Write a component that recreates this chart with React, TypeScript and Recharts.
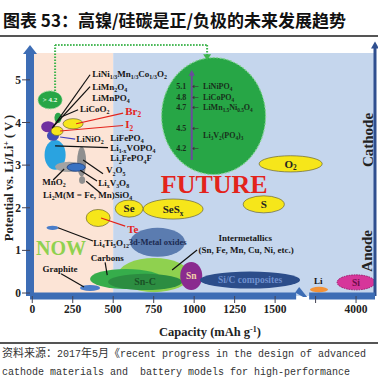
import React from 'react';
import { ComposedChart, XAxis, YAxis, ReferenceArea, ReferenceLine, ReferenceDot, Scatter } from 'recharts';

const SERIF = '"Liberation Serif", "Times New Roman", serif';

// ---------- axes ----------
const xTickCaps = [0, 250, 500, 750, 1000, 1250, 1500, 3750, 4000];
const xTickLabels = ['0', '250', '500', '750', '1000', '1250', '1500', '', '4000'];
const yTicks = [0, 1, 2, 3, 4, 5];
const xDomain = [-14, 2117];
const yDomain = [-0.07, 5.63];
const nowFutureSplit = 500;
const BREAK_SHIFT = 2000; // broken capacity axis: 3000+ mAh/g drawn shifted
const breakCap = 1667;
const toAxis = (cap: number) => (cap >= 3000 ? cap - BREAK_SHIFT : cap);

// ---------- material regions: [key, capacity, potential, capacity half-span, potential half-span] ----------
const futureRegions: [string, number, number, number, number][] = [
  ['future', 1120, 4.15, 321, 1.37],
  ['gt42', 110, 4.53, 74, 0.21],
];
const cathodeMaterials: [string, number, number, number, number][] = [
  ['O2', 1596, 3.03, 195, 0.19],
  ['S', 1430, 2.08, 127, 0.2],
  ['SeSx', 870, 1.97, 185, 0.235],
  ['Se', 598, 1.98, 86, 0.2],
  ['Te', 407, 1.76, 74, 0.2],
  ['LiFePO4', 141, 3.24, 65, 0.35],
  ['V2O5', 305, 3.08, 28, 0.35],
  ['Li2MSiO4', 308, 2.65, 19, 0.09],
  ['MnO2', 227, 2.96, 86, 0.12],
  ['LixV3O8', 271, 2.95, 56, 0.094],
  ['LiNi', 98, 3.9, 43, 0.13],
  ['LiNiO2', 128, 3.69, 37, 0.12],
  ['LiCoO2', 159, 4.11, 22, 0.12],
  ['I2', 153, 3.8, 37, 0.105],
  ['Br2', 252, 3.97, 62, 0.12],
];
const anodeMaterials: [string, number, number, number, number][] = [
  ['Li4Ti5O12', 125, 1.53, 37, 0.05],
  ['metalOxides', 774, 1.19, 170, 0.34],
  ['intermetallics', 752, 0.42, 222, 0.4],
  ['carbons', 579, 0.33, 222, 0.235],
  ['SnC', 697, 0.26, 229, 0.19],
  ['graphite', 357, 0.12, 62, 0.07],
  ['Sn', 982, 0.4, 68, 0.33],
  ['SiC', 1345, 0.305, 309, 0.2],
  ['Li', 3771, 0.08, 56, 0.065],
  ['Si', 4000, 0.25, 117, 0.176],
];

// ---------- texts: [text, capacity, potential] ----------
const cathodeLabels: [string, number, number][] = [
  ['LiNi_{1/3}Mn_{1/3}Co_{1/3}O_2', 370, 5.14],
  ['LiMn_2O_4', 370, 4.84],
  ['LiMnPO_4', 370, 4.58],
  ['LiCoO_2', 295, 4.32],
  ['LiNiO_2', 271, 3.61],
  ['LiFePO_4', 481, 3.65],
  ['Li_{1-x}VOPO_4', 481, 3.41],
  ['Li_2FePO_4F', 481, 3.16],
  ['V_2O_5', 456, 2.88],
  ['MnO_2', 61, 2.6],
  ['Li_xV_3O_8', 407, 2.58],
  ['Li_2M(M = Fe, Mn)SiO_4', 67, 2.3],
  ['Li_4Ti_5O_{12}', 376, 1.17],
];
const redLabels: [string, number, number][] = [
  ['Br_2', 574, 4.27],
  ['I_2', 574, 3.95],
  ['Te', 586, 1.5],
];
const centeredLabels: [string, number, number][] = [
  ['Carbons', 463, 0.82],
  ['Graphite', 172, 0.56],
  ['Intermetallics', 1315, 1.29],
  ['(Sn, Fe, Mn, Cu, Ni, etc.)', 1321, 1.01],
  ['Li', 3766, 0.28],
];
const circleValues: [string, number][] = [
  ['5.1', 4.86], ['4.8', 4.6], ['4.7', 4.36], ['4.5', 3.87], ['4.2', 3.4],
];
const circleMaterials: [string, number][] = [
  ['LiNiPO_4', 4.86], ['LiCoPO_4', 4.6], ['LiMn_{1.5}Ni_{0.5}O_4', 4.36], ['Li_3V_2(PO_4)_3', 3.7],
];
const circleValueCap = 920;
const circleArrowCap = 1011;
const circleLabelCap = 1055;
const circleAxis: [number, number, number] = [985, 3.12, 5.12];
const bigWords: [string, number, number, string][] = [
  ['FUTURE', 1124, 2.56, 'future'],
  ['NOW', 178, 1.06, 'now'],
  ['Cathode', 2075, 3.59, 'side'],
  ['Anode', 2069, 0.99, 'side'],
];

// ---------- leader lines: [cap1, v1, cap2, v2] ----------
const blackLeaders: [number, number, number, number][] = [
  [357, 5.12, 123, 3.87],
  [357, 4.84, 129, 3.9],
  [283, 4.3, 178, 4.13],
  [468, 3.41, 141, 3.45],
  [437, 2.8, 314, 3.12],
  [129, 2.65, 197, 2.91],
  [400, 2.63, 296, 2.88],
  [419, 2.35, 333, 2.62],
  [159, 1.53, 375, 1.22],
  [450, 0.72, 463, 0.42],
  [178, 0.45, 320, 0.14],
  [1018, 1.01, 864, 0.54],
];
const redLeaders: [number, number, number, number][] = [
  [561, 4.22, 271, 3.97],
  [561, 3.93, 172, 3.8],
  [574, 1.57, 425, 1.76],
];
const blueLeaders: [number, number, number, number][] = [[265, 3.61, 172, 3.66]];
const greenConnector: [number, number][] = [[141, 4.74], [141, 5.82], [1080, 5.82], [1080, 5.58]];

// ---------- styles ----------
const YELLOW = { fill: '#f6e61a', stroke: '#6a6530', sw: 0.7 };
const ellipseStyle: Record<string, any> = {
  future: { fill: '#27a646', stroke: '#7fd38c', sw: 1.2, dash: '2 1.5' },
  gt42: { fill: '#27a646', stroke: '#7fd38c', sw: 1, dash: '1.5 1', text: '> 4.2', tc: '#eaffea', ts: 7 },
  O2: { ...YELLOW, text: 'O_2', tc: '#222', ts: 11 },
  S: { ...YELLOW, text: 'S', tc: '#222', ts: 11 },
  SeSx: { ...YELLOW, text: 'SeS_x', tc: '#222', ts: 11 },
  Se: { ...YELLOW, text: 'Se', tc: '#222', ts: 11 },
  Te: { ...YELLOW },
  LiFePO4: { fill: '#2aa3e0' },
  V2O5: { fill: '#8f8f8f' },
  Li2MSiO4: { fill: '#8f8f8f' },
  MnO2: { fill: '#a3a3a3' },
  LixV3O8: { fill: '#3a72c2', stroke: '#1d3b78', sw: 0.8 },
  LiNi: { fill: '#7030a0' },
  LiNiO2: { fill: '#3f4db5' },
  LiCoO2: { fill: '#2aa54a' },
  I2: { ...YELLOW },
  Br2: { ...YELLOW },
  Li4Ti5O12: { fill: '#4a7dc9' },
  metalOxides: { fill: '#5b7cb0', text: '3d-Metal oxides', tc: '#1c2b52', ts: 8.5 },
  intermetallics: { fill: '#8fd14f' },
  carbons: { fill: '#36ad4b' },
  SnC: { fill: '#2c8d41', text: 'Sn-C', tc: '#1a5226', ts: 10 },
  graphite: { fill: '#4a7dc9' },
  Sn: { fill: '#8a2b8f', text: 'Sn', tc: '#f5d2a8', ts: 9.5 },
  SiC: { fill: '#2c4d8a', text: 'Si/C composites', tc: '#6f90cf', ts: 9.5 },
  Li: { fill: '#f39237' },
  Si: { fill: '#d6369a', stroke: '#9a1b6a', sw: 1, dash: '1.5 1', text: 'Si', tc: '#6e0d48', ts: 9.5 },
};
const labelStyle: Record<string, any> = {
  cathode: { size: 9, anchor: 'start', fill: '#151515' },
  red: { size: 11, anchor: 'start', fill: '#e3231b' },
  center: { size: 9, anchor: 'middle', fill: '#151515' },
  circleVal: { size: 8, anchor: 'middle', fill: '#17301b' },
  circleMat: { size: 8, anchor: 'start', fill: '#17301b' },
  arrow: { size: 8, anchor: 'middle', fill: '#333', weight: 400, family: '"DejaVu Sans", sans-serif' },
  future: { size: 26, anchor: 'middle', fill: '#e3231b' },
  now: { size: 20, anchor: 'middle', fill: '#8fd14f' },
  side: { size: 15, anchor: 'middle', fill: '#222', rotate: -90 },
};

// ---------- rich text (sub/superscripts) ----------
function parseRich(s: string) {
  const out: { t: string; k: string }[] = [];
  let i = 0;
  let buf = '';
  const flush = () => {
    if (buf) { out.push({ t: buf, k: 'n' }); buf = ''; }
  };
  while (i < s.length) {
    const ch = s[i];
    if ((ch === '_' || ch === '^') && i + 1 < s.length) {
      flush();
      let t = '';
      if (s[i + 1] === '{') {
        const j = s.indexOf('}', i + 2);
        t = s.slice(i + 2, j);
        i = j + 1;
      } else {
        t = s[i + 1];
        i += 2;
      }
      out.push({ t, k: ch === '_' ? 'sub' : 'sup' });
    } else {
      buf += ch;
      i++;
    }
  }
  flush();
  return out;
}

function RichText(props: any) {
  const { x, y, text, size, fill, anchor = 'start', weight = 700, rotate = 0, family = SERIF } = props;
  const segs = parseRich(text);
  let cur = 0;
  return (
    <text
      x={x}
      y={y + size * 0.35}
      fontSize={size}
      fill={fill}
      textAnchor={anchor}
      fontWeight={weight}
      fontFamily={family}
      transform={rotate ? `rotate(${rotate} ${x} ${y})` : undefined}
    >
      {segs.map((s, i) => {
        const target = s.k === 'sub' ? size * 0.24 : s.k === 'sup' ? -size * 0.4 : 0;
        const d = target - cur;
        cur = target;
        return (
          <tspan key={i} dy={d} fontSize={s.k === 'n' ? size : size * 0.66}>
            {s.t}
          </tspan>
        );
      })}
    </text>
  );
}

const EllipseShape = (st: any) => (p: any) => {
  const { x, y, width, height } = p;
  const cx = x + width / 2;
  const cy = y + height / 2;
  return (
    <g>
      <ellipse
        cx={cx}
        cy={cy}
        rx={Math.abs(width) / 2}
        ry={Math.abs(height) / 2}
        fill={st.fill}
        stroke={st.stroke || 'none'}
        strokeWidth={st.sw || 0}
        strokeDasharray={st.dash}
      />
      {st.text ? <RichText x={cx} y={cy} text={st.text} size={st.ts} fill={st.tc} anchor="middle" /> : null}
    </g>
  );
};

const LabelShape = (p: any) => {
  const d = p.payload;
  const st = labelStyle[d.kind];
  return <RichText x={p.cx} y={p.cy} text={d.text} {...st} />;
};

const rows = (list: [string, number, number][], kind: string) =>
  list.map(([text, cap, v]) => ({ x: toAxis(cap), y: v, text, kind }));

const labelRows = [
  ...rows(cathodeLabels, 'cathode'),
  ...rows(redLabels, 'red'),
  ...rows(centeredLabels, 'center'),
  ...circleValues.map(([t, v]) => ({ x: circleValueCap, y: v, text: t, kind: 'circleVal' })),
  ...circleValues.map(([, v]) => ({ x: circleArrowCap, y: v, text: '←', kind: 'arrow' })),
  ...circleMaterials.map(([t, v]) => ({ x: circleLabelCap, y: v, text: t, kind: 'circleMat' })),
  ...bigWords.map(([t, cap, v, k]) => ({ x: toAxis(cap), y: v, text: t, kind: k })),
];

const AXIS_BLUE = '#3d6db5';
const tri = (color: string, dir: 'up' | 'down', w: number, h: number) => (p: any) => {
  const { cx, cy } = p;
  const pts =
    dir === 'up'
      ? `${cx - w},${cy + 1} ${cx + w},${cy + 1} ${cx},${cy - h}`
      : `${cx - w},${cy - 1} ${cx + w},${cy - 1} ${cx},${cy + h}`;
  return <polygon points={pts} fill={color} />;
};

const BreakShape = (p: any) => {
  const { cx, cy } = p;
  return (
    <g>
      <rect x={cx - 6} y={cy - 4} width={13} height={4} fill="#c5d6ed" />
      <rect x={cx - 6} y={cy} width={13} height={4.5} fill="#ffffff" />
      <polygon points={`${cx - 7},${cy - 3.5} ${cx - 3},${cy - 9} ${cx + 5},${cy + 1} ${cx + 1},${cy + 1}`} fill={AXIS_BLUE} />
    </g>
  );
};

const tickFont = { fontFamily: SERIF, fontWeight: 700, fontSize: 11.5, fill: '#222' };

export default function App() {
  const allEllipses = [...futureRegions, ...cathodeMaterials, ...anodeMaterials];
  return (
    <div style={{ position: 'absolute', left: 0, top: 0, width: 378, height: 383, background: '#fff', overflow: 'hidden' }}>
      <ComposedChart width={378} height={383} margin={{ top: 53, right: 3, bottom: 0, left: 0 }}>
        <ReferenceArea x1={xDomain[0]} x2={nowFutureSplit} y1={0} y2={yDomain[1]} fill="#fce4d6" fillOpacity={1} stroke="none" ifOverflow="visible" />
        <ReferenceArea x1={nowFutureSplit} x2={xDomain[1]} y1={0} y2={yDomain[1]} fill="#c5d6ed" fillOpacity={1} stroke="none" ifOverflow="visible" />

        {allEllipses.map(([key, cap, v, dc, dv]) => (
          <ReferenceArea
            key={key}
            x1={toAxis(cap) - dc}
            x2={toAxis(cap) + dc}
            y1={v - dv}
            y2={v + dv}
            ifOverflow="visible"
            shape={EllipseShape(ellipseStyle[key])}
          />
        ))}

        {greenConnector.slice(1).map((pt, i) => (
          <ReferenceLine
            key={'g' + i}
            segment={[{ x: greenConnector[i][0], y: greenConnector[i][1] }, { x: pt[0], y: pt[1] }]}
            stroke="#3cb44b"
            strokeWidth={2}
            strokeDasharray="1.5 1.5"
            ifOverflow="visible"
          />
        ))}
        <ReferenceDot x={greenConnector[3][0]} y={greenConnector[3][1]} r={3} ifOverflow="visible" shape={tri('#3cb44b', 'down', 4, 5)} />

        <ReferenceLine
          segment={[{ x: circleAxis[0], y: circleAxis[1] }, { x: circleAxis[0], y: circleAxis[2] }]}
          stroke="#6a4c9c"
          strokeWidth={2}
          ifOverflow="visible"
        />
        <ReferenceDot x={circleAxis[0]} y={circleAxis[2]} r={2} ifOverflow="visible" shape={tri('#6a4c9c', 'up', 3, 5)} />

        {blackLeaders.map(([a, b, c, d], i) => (
          <ReferenceLine key={'b' + i} segment={[{ x: a, y: b }, { x: c, y: d }]} stroke="#111" strokeWidth={1.2} ifOverflow="visible" />
        ))}
        {redLeaders.map(([a, b, c, d], i) => (
          <ReferenceLine key={'r' + i} segment={[{ x: a, y: b }, { x: c, y: d }]} stroke="#e3231b" strokeWidth={1.2} ifOverflow="visible" />
        ))}
        {blueLeaders.map(([a, b, c, d], i) => (
          <ReferenceLine key={'u' + i} segment={[{ x: a, y: b }, { x: c, y: d }]} stroke="#4040c0" strokeWidth={1.2} ifOverflow="visible" />
        ))}

        <XAxis
          type="number"
          dataKey="x"
          domain={xDomain}
          allowDataOverflow
          ticks={xTickCaps.map(toAxis)}
          interval={0}
          tickFormatter={(v: number) => xTickLabels[xTickCaps.map(toAxis).indexOf(v)] ?? ''}
          axisLine={{ stroke: AXIS_BLUE, strokeWidth: 7 }}
          tickLine={{ stroke: '#445', strokeWidth: 1 }}
          tickSize={7}
          tickMargin={2}
          tick={tickFont}
          height={87}
        />
        <YAxis
          type="number"
          dataKey="y"
          domain={yDomain}
          allowDataOverflow
          ticks={yTicks}
          interval={0}
          axisLine={{ stroke: AXIS_BLUE, strokeWidth: 8 }}
          tickLine={{ stroke: '#445', strokeWidth: 1 }}
          tickSize={8}
          tickMargin={1}
          tick={tickFont}
          width={30}
        />

        <ReferenceDot x={xDomain[0]} y={yDomain[1]} r={3} ifOverflow="visible" shape={tri(AXIS_BLUE, 'up', 7, 8)} />
        <ReferenceLine
          segment={[{ x: xDomain[1], y: yDomain[0] }, { x: xDomain[1], y: 5.78 }]}
          stroke="#2f4f8f"
          strokeWidth={3}
          ifOverflow="visible"
        />
        <ReferenceDot x={xDomain[1]} y={5.76} r={2} ifOverflow="visible" shape={tri('#2f4f8f', 'up', 4, 6)} />
        <ReferenceDot x={breakCap} y={yDomain[0]} r={2} ifOverflow="visible" shape={BreakShape} />

        <Scatter data={labelRows} dataKey="y" isAnimationActive={false} shape={LabelShape} />
      </ComposedChart>

      <div style={{ position: 'absolute', left: 3, top: 9, fontFamily: '"Noto Sans CJK SC", sans-serif', fontWeight: 700, fontSize: 17, lineHeight: '22px', color: '#111', whiteSpace: 'nowrap' }}>
        图表 53：高镍/硅碳是正/负极的未来发展趋势
      </div>
      <div style={{ position: 'absolute', left: 0, top: 35, width: 378, height: 1.5, background: '#555' }} />

      <div style={{ position: 'absolute', left: 8, top: 178, transform: 'translate(-50%, -50%) rotate(-90deg)', whiteSpace: 'nowrap', fontFamily: SERIF, fontWeight: 700, fontSize: 12.5, lineHeight: '14px', color: '#222' }}>
        Potential vs. Li/Li<span style={{ fontSize: 8, verticalAlign: 4 }}>+</span> ( V )
      </div>
      <div style={{ position: 'absolute', left: 210, top: 331, transform: 'translate(-50%, -50%)', whiteSpace: 'nowrap', fontFamily: SERIF, fontWeight: 700, fontSize: 12.5, lineHeight: '14px', color: '#222' }}>
        Capacity (mAh g<span style={{ fontSize: 8, verticalAlign: 4 }}>-1</span>)
      </div>

      <div style={{ position: 'absolute', left: 0, top: 342, width: 378, height: 1.5, background: '#555' }} />
      <div style={{ position: 'absolute', left: 2, top: 345, fontFamily: '"Liberation Mono", "Noto Sans CJK SC", monospace', fontSize: 10, lineHeight: '18px', color: '#333', whiteSpace: 'pre' }}>
        <span style={{ fontSize: 11 }}>资料来源：</span>2017<span style={{ fontSize: 11 }}>年</span>5<span style={{ fontSize: 11 }}>月《</span>recent progress in the design of advanced
        {'\n'}cathode materials and  battery models for high-performance
      </div>
    </div>
  );
}
